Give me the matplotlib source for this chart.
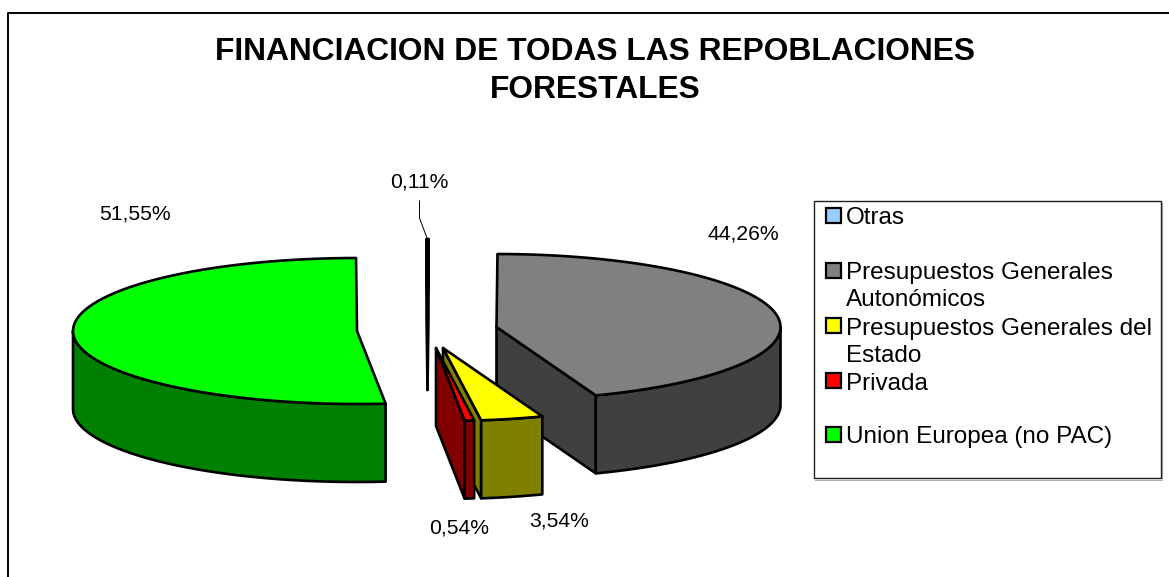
import numpy as np
import matplotlib
matplotlib.use("Agg")
import matplotlib.pyplot as plt
from matplotlib.patches import Polygon, Rectangle

plt.rcParams['font.family'] = ['Liberation Sans', 'DejaVu Sans']

# ---- data (clockwise from 12 o'clock) ----
slice_names = ["Otras", "Presupuestos Generales\nAutonómicos", "Presupuestos Generales del\nEstado",
               "Privada", "Union Europea (no PAC)"]
slice_values = [0.11, 44.26, 3.54, 0.54, 51.55]
top_colors = ["#99CCFF", "#808080", "#FFFF00", "#FF0000", "#00FF00"]
side_colors = ["#4C6680", "#404040", "#808000", "#800000", "#008000"]
value_labels = ["0,11%", "44,26%", "3,54%", "0,54%", "51,55%"]
title_lines = "FINANCIACION DE TODAS LAS REPOBLACIONES\nFORESTALES"

# ---- layout (pixel space) ----
W, H = 1169, 577
RX, RY, DEPTH = 284, 73, 78
START_ANGLE = -0.2
apex = [(427.5, 312), (496.5, 327), (443, 348), (436, 348), (357, 331)]
label_pos = [(419, 182), (743, 234), (559, 521), (459, 528), (135, 214)]
legend_rows = [217, 272, 327, 382, 436]

fig = plt.figure(figsize=(W / 100, H / 100), dpi=100)
ax = fig.add_axes([0, 0, 1, 1])
ax.set_xlim(0, W)
ax.set_ylim(H, 0)
ax.axis("off")

LW = 1.9


def arc(cx, cy, t0, t1, n=80):
    t = np.radians(np.linspace(t0, t1, n))
    return np.column_stack([cx + RX * np.sin(t), cy - RY * np.cos(t)])


def poly(pts, fc, z):
    ax.add_patch(Polygon(pts, closed=True, fc=fc, ec="black", lw=LW, joinstyle="round", zorder=z))


def draw_slice(i, t0, t1, z):
    cx, cy = apex[i]
    # visible cut faces
    for t, is_end in ((t0, False), (t1, True)):
        r = np.radians(t)
        ny = -np.sin(r) if is_end else np.sin(r)
        if ny < 0.0 or abs(t1 - t0) < 1:
            p = arc(cx, cy, t, t, 1)[0]
            poly([(cx, cy), p, (p[0], p[1] + DEPTH), (cx, cy + DEPTH)], side_colors[i], z)
    # outer rim (front half only)
    a, b = max(t0, 90), min(t1, 270)
    if a < b:
        rim = arc(cx, cy, a, b)
        poly(np.vstack([rim, (rim + [0, DEPTH])[::-1]]), side_colors[i], z + 0.1)
    # top face
    poly(np.vstack([[(cx, cy)], arc(cx, cy, t0, t1)]), top_colors[i], z + 0.2)


edges = START_ANGLE + 360 * np.cumsum([0] + slice_values) / sum(slice_values)
for idx, z in [(0, 2), (4, 3), (1, 4), (2, 5), (3, 6)]:
    draw_slice(idx, edges[idx], edges[idx + 1], z)

# outer frame (only left and top edges are in view)
ax.plot([7.5, 7.5, W], [H, 12.5, 12.5], color="black", lw=1.4, zorder=1)

# title
ax.text(595, 71, title_lines, ha="center", va="center", fontsize=22.9, fontweight="bold",
        linespacing=1.36, zorder=10)

# value labels
for (x, y), s in zip(label_pos, value_labels):
    ax.text(x, y, s, ha="center", va="center", fontsize=15.2, zorder=10)

# leader line for the smallest slice
ax.plot([419.5, 419.5, 427], [201, 218, 238], color="black", lw=0.7, zorder=10)

# legend
ax.plot([815, 1161.5, 1161.5], [479.5, 479.5, 203], color="#b0b0b0", lw=0.8, zorder=6)
ax.add_patch(Rectangle((813.5, 201), 347, 277, fc="white", ec="#202020", lw=1.0, zorder=7))
for y, name, c in zip(legend_rows, slice_names, top_colors):
    ax.add_patch(Rectangle((826, y - 9), 15, 15, fc=c, ec="black", lw=1.6, zorder=8))
    parts = name.split("\n")
    ax.text(846, y + 1.5, parts[0], ha="left", va="center", fontsize=17.45, zorder=9)
    if len(parts) > 1:
        ax.text(846, y + 28.5, parts[1], ha="left", va="center", fontsize=17.45, zorder=9)

fig.savefig("out.png", dpi=100)
